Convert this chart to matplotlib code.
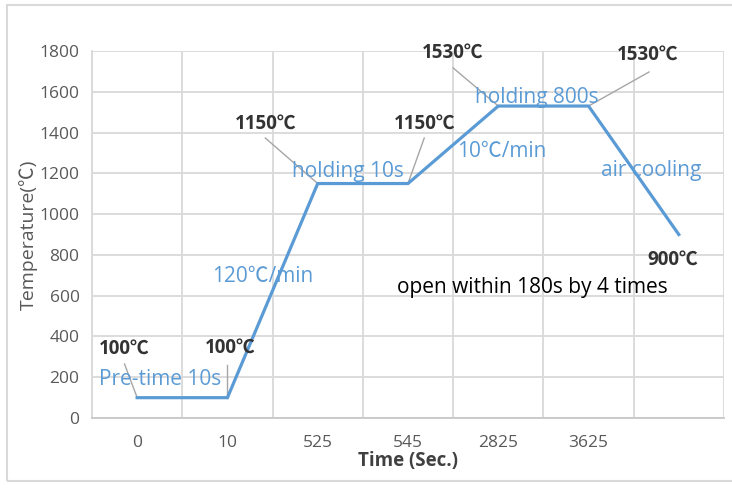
## heat treatment profile chart

import numpy as np
import matplotlib.pyplot as plt
from matplotlib.patches import Rectangle

plt.rcParams['font.family'] = ['Open Sans', 'Noto Sans CJK SC', 'DejaVu Sans']

# data
time_labels = ['0', '10', '525', '545', '2825', '3625', '']
temps = [100, 100, 1150, 1150, 1530, 1530, 900]
y_ticks = [0, 200, 400, 600, 800, 1000, 1200, 1400, 1600, 1800]

# labels at points: text, point index, text centre, leader start
point_labels = [
    ('100℃', 0, (-0.14, 338), (-0.14, 265)),
    ('100℃', 1, (1.03, 343), (1.0, 260)),
    ('1150℃', 2, (1.42, 1442), (1.42, 1373)),
    ('1150℃', 3, (3.18, 1442), (3.18, 1373)),
    ('1530℃', 4, (3.5, 1790), (3.5, 1717)),
    ('1530℃', 5, (5.66, 1780), (5.67, 1697)),
    ('900℃', 6, (5.93, 775), None),
]

# blue step notes
step_notes = [
    ('Pre-time 10s', (0.25, 191)),
    ('120℃/min', (1.39, 696)),
    ('holding 10s', (2.34, 1211)),
    ('10℃/min', (4.04, 1305)),
    ('holding 800s', (4.43, 1574)),
    ('air cooling', (5.69, 1216)),
]

blue = '#5B9BD5'
grid_col = '#D9D9D9'

fig = plt.figure(figsize=(7.32, 4.93), dpi=100)
ax = fig.add_axes([0.1257, 0.152, 0.8633, 0.7446])

x = np.arange(len(temps))
ax.plot(x, temps, color=blue, lw=2.3, zorder=3, solid_joinstyle='miter')

ax.set_xlim(-0.5, len(temps) - 0.5)
ax.set_ylim(0, 1800)
ax.set_yticks(y_ticks)
ax.set_xticks(x)
ax.set_xticklabels(time_labels)
ax.set_xticks(np.arange(-0.5, len(temps), 1), minor=True)
ax.grid(True, which='minor', axis='x', color=grid_col, lw=1.3)
ax.grid(True, which='major', axis='y', color=grid_col, lw=1.3)
ax.set_axisbelow(True)

for s in ['top', 'right']:
    ax.spines[s].set_visible(False)
ax.spines['left'].set_color(grid_col)
ax.spines['left'].set_linewidth(1.3)
ax.spines['bottom'].set_color('#C8C8C8')
ax.spines['bottom'].set_linewidth(1.3)

ax.tick_params(axis='both', which='both', length=0, labelsize=12.5, labelcolor='#595959')
ax.tick_params(axis='y', pad=9)
ax.tick_params(axis='x', pad=12)

ax.set_xlabel('Time (Sec.)', fontsize=13.5, fontweight='bold', color='#404040', labelpad=0)
ax.set_ylabel('Temperature(℃)', fontsize=14, color='#595959', labelpad=1)

for txt, i, (tx, ty), start in point_labels:
    if start is not None:
        ax.plot([start[0], x[i]], [start[1], temps[i]], color='#A6A6A6', lw=1, zorder=2)
    ax.text(tx, ty, txt, ha='center', va='center', fontsize=13.5,
            fontweight='bold', color='#333333', zorder=4)

for txt, (tx, ty) in step_notes:
    ax.text(tx, ty, txt, ha='center', va='center', fontsize=15, color=blue, zorder=4)

ax.text(4.38, 642, 'open within 180s by 4 times', ha='center', va='center',
        fontsize=15, color='black', zorder=4)

# light frame around the chart
fig.patches.append(Rectangle((0.0096, 0.0243), 1.0, 0.9656, transform=fig.transFigure,
                             fill=False, edgecolor=grid_col, lw=1.5))

plt.savefig('out.png', dpi=100)
